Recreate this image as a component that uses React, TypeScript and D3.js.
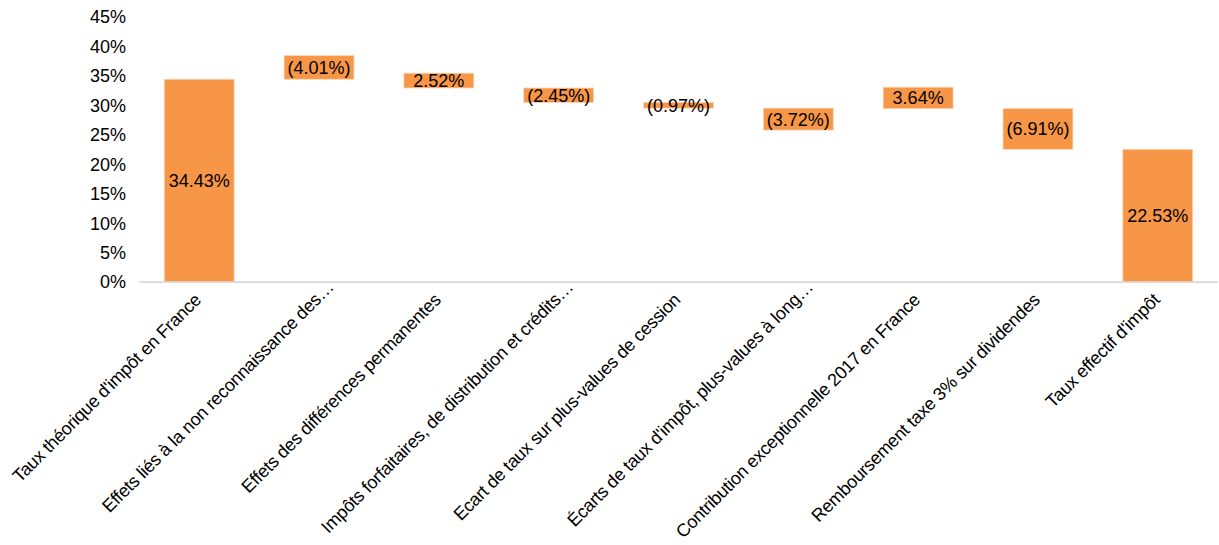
import React from "react";
import * as d3 from "d3";

const categories = [
  "Taux théorique d'impôt en France",
  "Effets liés à la non reconnaissance des…",
  "Effets des différences permanentes",
  "Impôts forfaitaires, de distribution et crédits…",
  "Ecart de taux sur plus-values de cession",
  "Écarts de taux d'impôt, plus-values à long…",
  "Contribution exceptionnelle 2017 en France",
  "Remboursement taxe 3% sur dividendes",
  "Taux effectif d'impôt",
];

// invisible base series (stacked waterfall) and visible series, in %
const baseValues = [0, 34.43, 32.94, 30.49, 29.52, 25.8, 29.44, 22.53, 0];
const barValues = [34.43, 4.01, 2.52, 2.45, 0.97, 3.72, 3.64, 6.91, 22.53];
const dataLabels = [
  "34.43%",
  "(4.01%)",
  "2.52%",
  "(2.45%)",
  "(0.97%)",
  "(3.72%)",
  "3.64%",
  "(6.91%)",
  "22.53%",
];
const yTicks = [0, 5, 10, 15, 20, 25, 30, 35, 40, 45];

const W = 1219;
const H = 545;
const FONT = "'Liberation Sans', Arial, sans-serif";
const BAR = "#F79646";

export default function App() {
  const x = d3
    .scaleBand<string>()
    .domain(categories)
    .range([139.3, 1217.7])
    .paddingInner(0.417)
    .paddingOuter(0.2085);
  const y = d3.scaleLinear().domain([0, 45]).range([282, 17]);
  const bw = x.bandwidth();

  return (
    <svg
      width={W}
      height={H}
      style={{ position: "absolute", left: 0, top: 0, background: "#fff" }}
      fontFamily={FONT}
    >
      {/* bars */}
      {categories.map((c, i) => {
        const b = baseValues[i];
        const v = barValues[i];
        const yTop = y(b + v);
        const yBot = y(b);
        return (
          <rect
            key={c}
            x={x(c)}
            y={yTop}
            width={bw}
            height={yBot - yTop}
            fill={BAR}
            stroke="#fbd3b2"
            strokeWidth={0.8}
          />
        );
      })}

      {/* x axis line */}
      <line x1={139.3} x2={1217.7} y1={y(0)} y2={y(0)} stroke="#d9d9d9" strokeWidth={1.75} />

      {/* y tick labels */}
      {yTicks.map((t) => (
        <text
          key={t}
          x={126}
          y={y(t)}
          dy="0.36em"
          textAnchor="end"
          fontSize={18}
          fill="#000"
        >
          {t}%
        </text>
      ))}

      {/* data labels */}
      {categories.map((c, i) => {
        const b = baseValues[i];
        const v = barValues[i];
        const mid = (y(b) + y(b + v)) / 2;
        return (
          <text
            key={"l" + c}
            x={(x(c) as number) + bw / 2}
            y={mid}
            dy="0.36em"
            textAnchor="middle"
            fontSize={18}
            fill="#000"
          >
            {dataLabels[i]}
          </text>
        );
      })}

      {/* category labels */}
      {categories.map((c) => {
        const cx = (x(c) as number) + bw / 2;
        const ell = c.endsWith("…");
        return (
          <text
            key={"c" + c}
            transform={`translate(${cx + 3},301) rotate(-45)`}
            dx={ell ? "1em" : 0}
            textAnchor="end"
            fontSize={18}
            letterSpacing={-0.28}
            fill="#000"
          >
            {c}
          </text>
        );
      })}
    </svg>
  );
}
